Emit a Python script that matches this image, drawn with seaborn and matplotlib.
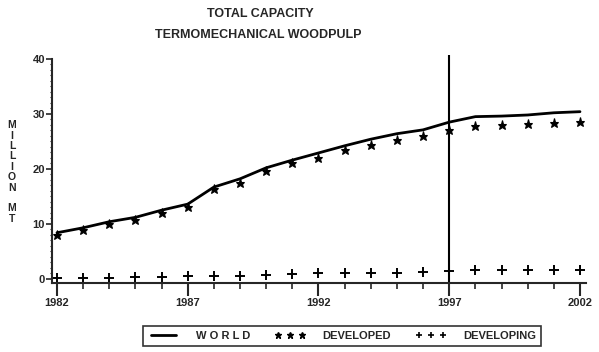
import numpy as np
import pandas as pd
import matplotlib
matplotlib.use('Agg')
import matplotlib.pyplot as plt
from matplotlib.lines import Line2D
from matplotlib.ticker import MultipleLocator
import seaborn as sns

sns.set_style('ticks')
plt.rcParams['font.family'] = ['Liberation Sans', 'DejaVu Sans']
plt.rcParams['font.weight'] = 'bold'

# %% Data (million metric tons)
years = list(range(1982, 2003))
world = [8.4, 9.3, 10.4, 11.2, 12.5, 13.6, 16.7, 18.2, 20.2, 21.6, 22.9,
         24.2, 25.4, 26.4, 27.1, 28.5, 29.5, 29.6, 29.8, 30.2, 30.4]
developed = [8.0, 8.9, 10.0, 10.8, 12.0, 13.0, 16.3, 17.5, 19.6, 21.1, 22.0,
             23.5, 24.4, 25.3, 26.0, 27.1, 27.8, 28.0, 28.2, 28.4, 28.6]
developing = [0.2, 0.2, 0.2, 0.3, 0.4, 0.5, 0.5, 0.6, 0.8, 0.9, 1.0,
              1.0, 1.1, 1.1, 1.2, 1.4, 1.6, 1.6, 1.6, 1.6, 1.7]
major_years = [1982, 1987, 1992, 1997, 2002]
y_ticks = [0, 10, 20, 30, 40]

df = pd.DataFrame({'year': years, 'world': world,
                   'developed': developed, 'developing': developing})

# %% Plot
fig = plt.figure(figsize=(5.99, 3.52), dpi=100)
ax = fig.add_axes([52 / 599, 1 - 283 / 352, 534 / 599, 228 / 352])

sns.lineplot(data=df, x='year', y='world', color='black', lw=2, ax=ax)
sns.lineplot(data=df, x='year', y='developed', color='black', marker='*',
             linestyle='', markersize=6.5, markeredgecolor='black',
             markeredgewidth=0.8, ax=ax)
sns.lineplot(data=df, x='year', y='developing', color='black', marker='+',
             linestyle='', markersize=6.5, markeredgecolor='black',
             markeredgewidth=1.4, ax=ax)
ax.axvline(1997, color='black', lw=1.5)

ax.set_xlim(1981.81, 2002.23)
ax.set_ylim(-0.73, 40.7)
ax.set_xticks(major_years)
ax.set_xticklabels([str(y) for y in major_years])
ax.xaxis.set_minor_locator(MultipleLocator(1))
ax.set_yticks(y_ticks)
ax.yaxis.set_minor_locator(MultipleLocator(1))
ax.tick_params(axis='x', which='major', length=9, width=1.5, labelsize=8, pad=2)
ax.tick_params(axis='x', which='minor', length=4, width=1.2)
ax.tick_params(axis='y', which='major', length=4, width=1.2, labelsize=8, pad=1)
ax.tick_params(axis='y', which='minor', length=1.5, width=0.8)
for s in ['top', 'right']:
    ax.spines[s].set_visible(False)
for s in ['left', 'bottom']:
    ax.spines[s].set_linewidth(1.5)
ax.spines['left'].set_bounds(-0.73, 40)
ax.set_xlabel('')
ax.set_ylabel('')

fig.text(260 / 599, 1 - 14 / 352, 'TOTAL CAPACITY', ha='center', va='center',
         fontsize=9, fontweight='bold')
fig.text(258 / 599, 1 - 35 / 352, 'TERMOMECHANICAL WOODPULP', ha='center',
         va='center', fontsize=9, fontweight='bold')
fig.text(12 / 599, 1 - 172 / 352, 'M\nI\nL\nL\nI\nO\nN\n\nM\nT', ha='center',
         va='center', fontsize=7.5, fontweight='bold', linespacing=1.05)

handles = [Line2D([], [], color='black', lw=2),
           Line2D([], [], color='black', marker='*', linestyle='', markersize=5),
           Line2D([], [], color='black', marker='+', linestyle='', markersize=5,
                  markeredgewidth=1.2)]
labels = ['W O R L D', 'DEVELOPED', 'DEVELOPING']
leg = fig.legend(handles, labels, ncol=3, numpoints=3, loc='center',
                 bbox_to_anchor=(342 / 599, 1 - 336 / 352), frameon=True,
                 fancybox=False, edgecolor='black', fontsize=8,
                 handlelength=2.8, columnspacing=2.2, handletextpad=1.5,
                 borderpad=0.45)
leg.get_frame().set_linewidth(1.2)

fig.savefig('out.png', dpi=100)
